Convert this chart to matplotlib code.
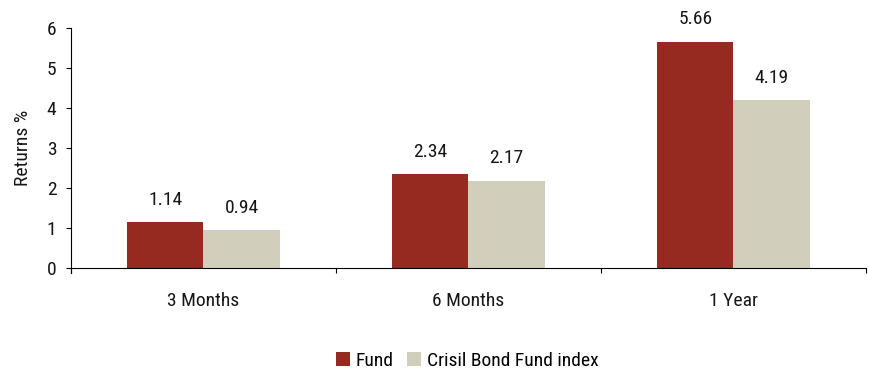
import matplotlib.pyplot as plt
import numpy as np

periodos = ["3 Months", "6 Months", "1 Year"]
fondo = [1.14, 2.34, 5.66]
indice = [0.94, 2.17, 4.19]
series = ["Fund", "Crisil Bond Fund index"]

plt.rcParams['font.family'] = ['Roboto Condensed', 'DejaVu Sans']
tam = 14
negro = "#161616"

fig = plt.figure(figsize=(8.7, 3.71), dpi=100)
ax = fig.add_axes([0.0816, 0.2776, 0.9138, 0.6469])

x = np.arange(len(periodos))
ancho = 0.287
b1 = ax.bar(x - ancho / 2, fondo, ancho, color="#962920", label=series[0])
b2 = ax.bar(x + ancho / 2, indice, ancho, color="#D1CFBC", label=series[1])

# etiquetas con el valor encima de cada barra
for barras in (b1, b2):
    for r in barras:
        ax.annotate(f"{r.get_height():.2f}", (r.get_x() + r.get_width() / 2, r.get_height()),
                    xytext=(0, 10), textcoords="offset points", ha="center", va="bottom",
                    fontsize=tam, color=negro)

ax.set_xlim(-0.5, 2.5)
ax.set_ylim(0, 6)
ax.set_yticks(range(0, 7))
ax.set_xticks(x)
ax.set_xticklabels(periodos, fontsize=tam, color=negro)
ax.set_xticks([-0.5, 0.5, 1.5, 2.5], minor=True)
ax.tick_params(axis="x", which="major", length=0, pad=17)
ax.tick_params(axis="x", which="minor", length=3.6, width=0.8, direction="out")
ax.tick_params(axis="y", length=3.6, width=0.8, labelsize=tam, labelcolor=negro, pad=7)
ax.set_ylabel("Returns %", fontsize=tam, color=negro)
ax.yaxis.set_label_coords(-0.049, 0.5)

for lado in ("top", "right"):
    ax.spines[lado].set_visible(False)
ax.spines["left"].set_linewidth(0.8)
ax.spines["bottom"].set_linewidth(0.8)
ax.spines["left"].set_bounds(-0.12, 6)

fig.legend(loc="center", bbox_to_anchor=(0.537, 0.028), ncol=2, frameon=False,
           fontsize=tam, handlelength=0.72, handleheight=0.72, handletextpad=0.3,
           columnspacing=0.67, borderpad=0)

fig.savefig("out.png", dpi=100)
